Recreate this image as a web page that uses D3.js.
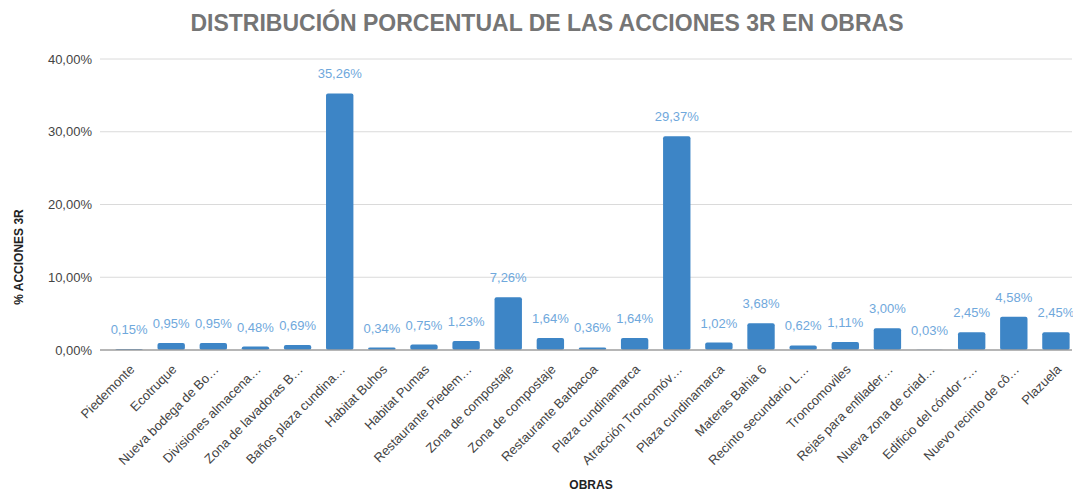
<!DOCTYPE html>
<html>
<head>
<meta charset="utf-8">
<script src="https://cdn.jsdelivr.net/npm/d3@7"></script>
<style>
	body { margin: 0; background: #ffffff; }
	svg { display: block; font-family: Arial, "Liberation Sans", sans-serif; }
	.title { font-size: 23px; font-weight: bold; fill: #757575; }
	.axisTitle { font-size: 12px; font-weight: bold; fill: #222222; }
	.tickLabel { font-size: 13px; fill: #444444; }
	.catLabel { font-size: 13px; fill: #444444; }
	.valueLabel { font-size: 13px; fill: #6fa8dc; }
</style>
</head>
<body>
<script>
//chart data
var categories = [
	"Piedemonte", "Ecotruque", "Nueva bodega de Bo…", "Divisiones almacena…",
	"Zona de lavadoras B…", "Baños plaza cundina…", "Habitat Buhos", "Habitat Pumas",
	"Restaurante Piedem…", "Zona de compostaje", "Zona de compostaje", "Restaurante Barbacoa",
	"Plaza cundinamarca", "Atracción Troncomóv…", "Plaza cundinamarca", "Materas Bahia 6",
	"Recinto secundario L…", "Troncomoviles", "Rejas para enfilader…", "Nueva zona de criad…",
	"Edificio del cóndor -…", "Nuevo recinto de cô…", "Plazuela"
];
var values = [
	0.15, 0.95, 0.95, 0.48,
	0.69, 35.26, 0.34, 0.75,
	1.23, 7.26, 1.64, 0.36,
	1.64, 29.37, 1.02, 3.68,
	0.62, 1.11, 3.00, 0.03,
	2.45, 4.58, 2.45
];
var yTicks = [0, 10, 20, 30, 40];

var WIDTH = 1073;
var HEIGHT = 491;

var PLOT_LEFT = 100;
var PLOT_RIGHT = 1072;
var PLOT_TOP = 59;
var PLOT_BOTTOM = 350;

var BAR_COLOR = "#3d85c6";

function fmt(v) {
	return v.toFixed(2).replace(".", ",") + "%";
}

var svg = d3.select("body").append("svg")
	.attr("width", WIDTH)
	.attr("height", HEIGHT);

var x = d3.scaleBand()
	.domain(d3.range(categories.length))
	.range([108, 1077])
	.paddingInner(0.35)
	.paddingOuter(0.175);

var y = d3.scaleLinear()
	.domain([0, 40])
	.range([PLOT_BOTTOM, PLOT_TOP]);

//title
svg.append("text")
	.attr("class", "title")
	.attr("x", 547)
	.attr("y", 31)
	.attr("text-anchor", "middle")
	.text("DISTRIBUCIÓN PORCENTUAL DE LAS ACCIONES 3R EN OBRAS");

//gridlines
svg.append("g")
	.selectAll("line")
	.data(yTicks.slice(1))
	.enter()
	.append("line")
	.attr("x1", PLOT_LEFT)
	.attr("x2", PLOT_RIGHT)
	.attr("y1", function(d) { return y(d); })
	.attr("y2", function(d) { return y(d); })
	.attr("stroke", "#dadada")
	.attr("stroke-width", 1);

//y axis labels
var yAxis = d3.axisLeft(y)
	.tickValues(yTicks)
	.tickSize(0)
	.tickPadding(8)
	.tickFormat(fmt);

var yAxisG = svg.append("g")
	.attr("transform", "translate(" + PLOT_LEFT + ",0)")
	.call(yAxis);
yAxisG.select(".domain").remove();
yAxisG.selectAll("text")
	.attr("class", "tickLabel")
	.attr("fill", null)
	.attr("font-family", null)
	.attr("font-size", null);

//bars
svg.append("g")
	.selectAll("rect")
	.data(values)
	.enter()
	.append("rect")
	.attr("x", function(d, i) { return x(i); })
	.attr("y", function(d) { return y(d); })
	.attr("width", x.bandwidth())
	.attr("height", function(d) { return PLOT_BOTTOM - y(d); })
	.attr("rx", 2)
	.attr("fill", BAR_COLOR);

//baseline
svg.append("line")
	.attr("x1", PLOT_LEFT)
	.attr("x2", PLOT_RIGHT)
	.attr("y1", y(0))
	.attr("y2", y(0))
	.attr("stroke", "#9e9e9e")
	.attr("stroke-width", 1.5);

//value labels
svg.append("g")
	.selectAll("text")
	.data(values)
	.enter()
	.append("text")
	.attr("class", "valueLabel")
	.attr("x", function(d, i) { return x(i) + x.bandwidth() / 2; })
	.attr("y", function(d) { return y(d) - 15; })
	.attr("text-anchor", "middle")
	.text(fmt);

//category labels
var xAxis = d3.axisBottom(x)
	.tickSize(0)
	.tickFormat(function(i) { return categories[i]; });

var xAxisG = svg.append("g")
	.attr("transform", "translate(0," + PLOT_BOTTOM + ")")
	.call(xAxis);
xAxisG.select(".domain").remove();
xAxisG.selectAll("text")
	.attr("class", "catLabel")
	.attr("fill", null)
	.attr("font-family", null)
	.attr("font-size", null)
	.attr("text-anchor", "end")
	.attr("dy", "0.35em")
	.attr("y", 0)
	.attr("transform", "translate(3,17) rotate(-45)");

//axis titles
svg.append("text")
	.attr("class", "axisTitle")
	.attr("transform", "translate(23,257) rotate(-90)")
	.attr("text-anchor", "middle")
	.text("% ACCIONES 3R");

svg.append("text")
	.attr("class", "axisTitle")
	.attr("x", 591)
	.attr("y", 489)
	.attr("text-anchor", "middle")
	.text("OBRAS");
</script>
</body>
</html>
